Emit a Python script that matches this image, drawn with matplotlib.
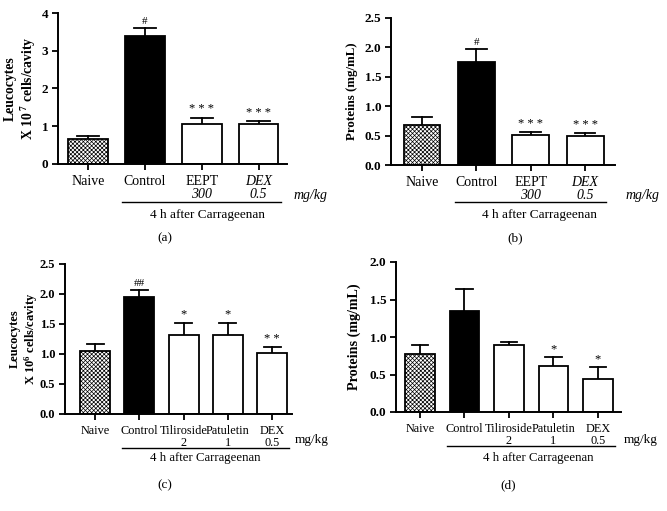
import matplotlib
matplotlib.use("Agg")
import matplotlib.pyplot as plt
import matplotlib.transforms as mtransforms
import numpy as np

plt.rcParams['font.family'] = ['Liberation Serif', 'DejaVu Serif']
plt.rcParams['mathtext.fontset'] = 'custom'
plt.rcParams['mathtext.rm'] = 'Liberation Serif:bold'
plt.rcParams['mathtext.it'] = 'Liberation Serif:bold'
plt.rcParams['hatch.linewidth'] = 0.5

# ---- data ----
cats_a = ["Naive", "Control", "EEPT", "DEX"]
dose_a = ["", "", "300", "0.5"]
vals_a = [0.65, 3.40, 1.05, 1.05]
tops_a = [0.73, 3.60, 1.23, 1.15]
sig_a = ["", "#", "* * *", "* * *"]

cats_b = ["Naive", "Control", "EEPT", "DEX"]
dose_b = ["", "", "300", "0.5"]
vals_b = [0.68, 1.76, 0.51, 0.49]
tops_b = [0.81, 1.97, 0.56, 0.54]
sig_b = ["", "#", "* * *", "* * *"]

cats_c = ["Naive", "Control", "Tiliroside", "Patuletin", "DEX"]
dose_c = ["", "", "2", "1", "0.5"]
vals_c = [1.05, 1.95, 1.32, 1.32, 1.02]
tops_c = [1.17, 2.06, 1.52, 1.52, 1.12]
sig_c = ["", "##", "*", "*", "* *"]

cats_d = ["Naive", "Control", "Tiliroside", "Patuletin", "DEX"]
dose_d = ["", "", "2", "1", "0.5"]
vals_d = [0.77, 1.35, 0.90, 0.62, 0.44]
tops_d = [0.90, 1.64, 0.94, 0.73, 0.60]
sig_d = ["", "", "", "*", "*"]

W, H = 667, 511
fig = plt.figure(figsize=(W / 100, H / 100), dpi=100)


def px_axes(l, t, r, b):
    return fig.add_axes([l / W, 1 - b / H, (r - l) / W, (b - t) / H])


def panel(ax, cats, dose, vals, tops, sig, ylim, yticks, yfmt, tick_size, ylabel,
          ylab_size, ylab_right_px, xlim, width, italic_dose, italic_names,
          cat_size, note_size, mg_size, label, mgkg_px, note_px, label_px,
          line_y_px, dose_dy):
    x = np.arange(len(cats))
    colors = ['white', 'black'] + ['white'] * (len(cats) - 2)
    hatches = ['xxxxxxxx', None] + [None] * (len(cats) - 2)
    for i in range(len(cats)):
        ax.bar(x[i], vals[i], width=width, color=colors[i], edgecolor='black',
               linewidth=1.3, hatch=hatches[i], zorder=2)
    # upper error bars
    for i in range(len(cats)):
        ax.plot([x[i], x[i]], [vals[i], tops[i]], color='black', lw=1.3, zorder=1)
        ax.plot([x[i] - width * 0.28, x[i] + width * 0.28], [tops[i], tops[i]],
                color='black', lw=1.3, zorder=3)
        if sig[i]:
            ax.annotate(sig[i], (x[i], tops[i]), xytext=(0, 1.5),
                        textcoords='offset points', ha='center', va='bottom',
                        fontsize=8 if '#' in sig[i] else 9)
    ax.set_xlim(*xlim)
    ax.set_ylim(*ylim)
    ax.set_yticks(yticks)
    ax.set_yticklabels([yfmt.format(v) for v in yticks], fontweight='bold',
                       fontsize=tick_size)
    ax.set_xticks(x)
    ax.set_xticklabels([])
    for s in ['top', 'right']:
        ax.spines[s].set_visible(False)
    for s in ['left', 'bottom']:
        ax.spines[s].set_linewidth(1.4)
    ax.tick_params(axis='both', length=4, width=1.3, direction='out', pad=3)
    pos = ax.get_position()
    axw = pos.width * W
    axh = pos.height * H
    ax.set_ylabel(ylabel, fontweight='bold', fontsize=ylab_size, linespacing=1.15)
    ax.yaxis.set_label_coords((ylab_right_px - pos.x0 * W) / axw, 0.5)
    tr = mtransforms.blended_transform_factory(ax.transData, ax.transAxes)
    for i in range(len(cats)):
        st = 'italic' if (italic_names and cats[i] == 'DEX') else 'normal'
        ax.text(x[i], -11 / axh, cats[i], transform=tr, ha='center', va='top',
                fontsize=cat_size, fontstyle=st)
        if dose[i]:
            ax.text(x[i], -(11 + dose_dy) / axh, dose[i], transform=tr,
                    ha='center', va='top', fontsize=cat_size,
                    fontstyle='italic' if italic_dose else 'normal')
    ax.plot([x[1] - width / 2 - 0.05, x[-1] + width / 2 + 0.05],
            [-line_y_px / axh] * 2, transform=tr, color='black', lw=1.0,
            clip_on=False)
    fig.text(mgkg_px[0] / W, 1 - mgkg_px[1] / H, 'mg/kg', ha='center',
             va='center', fontsize=mg_size,
             fontstyle='italic' if italic_dose else 'normal')
    fig.text(note_px[0] / W, 1 - note_px[1] / H, '4 h after Carrageenan',
             ha='center', va='center', fontsize=note_size)
    fig.text(label_px[0] / W, 1 - label_px[1] / H, label, ha='center',
             va='center', fontsize=9.5)


axa = px_axes(58, 13, 287, 164)
panel(axa, cats_a, dose_a, vals_a, tops_a, sig_a, (0, 4), [0, 1, 2, 3, 4], '{:.0f}',
      9.5, 'Leucocytes\nX 10$^{\\ 7}$ cells/cavity', 9.8, 38, (-0.53, 3.5), 0.7,
      True, True, 10, 9.5, 10, '(a)', (310, 195), (207, 215), (165, 238), 38, 13)

axb = px_axes(391, 18, 615, 165)
panel(axb, cats_b, dose_b, vals_b, tops_b, sig_b, (0, 2.5),
      [0, 0.5, 1.0, 1.5, 2.0, 2.5], '{:.1f}', 9.5, 'Proteins (mg/mL)', 9.3, 358,
      (-0.57, 3.55), 0.68, True, True, 10, 9.5, 10, '(b)', (643, 195), (540, 215),
      (515, 238), 37, 13)

axc = px_axes(65, 264, 292, 414)
panel(axc, cats_c, dose_c, vals_c, tops_c, sig_c, (0, 2.5),
      [0, 0.5, 1.0, 1.5, 2.0, 2.5], '{:.1f}', 9, 'Leucocytes\nX 10$^{6}$ cells/cavity',
      9.0, 40, (-0.68, 4.45), 0.68, False, False, 8.8, 9.2, 9.5, '(c)', (312, 440),
      (205, 458), (165, 485), 34, 12)

axd = px_axes(396, 262, 621, 412)
panel(axd, cats_d, dose_d, vals_d, tops_d, sig_d, (0, 2.0),
      [0, 0.5, 1.0, 1.5, 2.0], '{:.1f}', 9.5, 'Proteins (mg/mL)', 10.2, 361,
      (-0.54, 4.52), 0.67, False, False, 8.8, 9.2, 9.5, '(d)', (641, 440),
      (538, 458), (508, 485), 34, 12)

fig.savefig('out.png', dpi=100)
